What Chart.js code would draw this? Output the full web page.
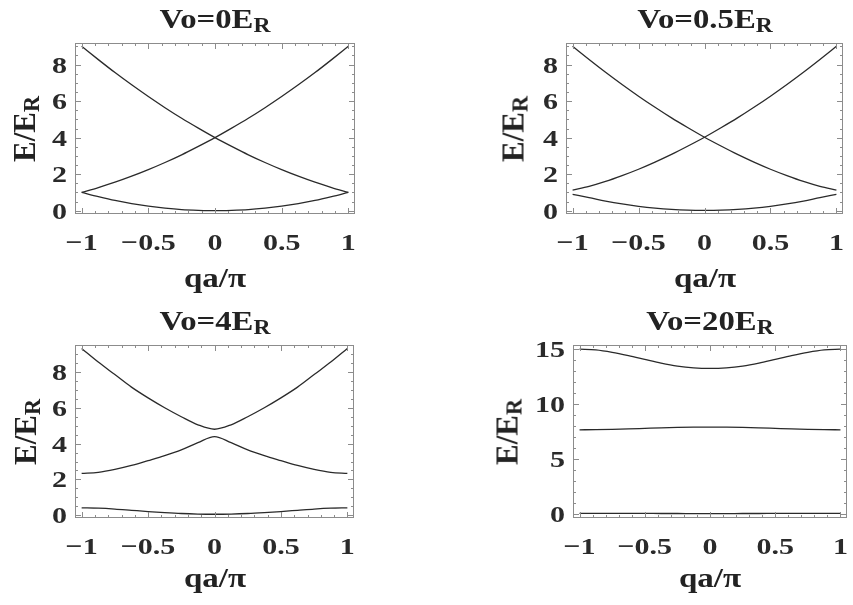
<!DOCTYPE html>
<html>
<head>
<meta charset="utf-8">
<script src="https://cdn.jsdelivr.net/npm/chart.js@4.4.1/dist/chart.umd.min.js"></script>
<style>
  html, body { margin: 0; padding: 0; background: #fff; }
  #fig { position: relative; width: 853px; height: 605px; overflow: hidden;
         font-family: 'Liberation Serif', 'Times New Roman', serif; font-weight: bold; color: #222; }
  canvas { position: absolute; }
  .lbl { position: absolute; white-space: nowrap; line-height: 1; }
  .title { font-size: 28px; transform: translateX(-50%) scaleX(1.17); }
  .xlab { font-size: 28px; transform: translateX(-50%) scaleX(1.18); }
  .ylab { font-size: 31px; transform: translate(-50%, -50%) rotate(-90deg); }
  sub { font-size: 0.72em; vertical-align: baseline; position: relative; top: 0.2em; }
</style>
</head>
<body>
<div id="fig">
  <canvas id="c0"></canvas>
  <canvas id="c1"></canvas>
  <canvas id="c2"></canvas>
  <canvas id="c3"></canvas>
</div>
<script>
// crystal momentum samples, in units of pi/a
const Q = [-1, -0.875, -0.75, -0.625, -0.5, -0.375, -0.25, -0.125, 0,
           0.125, 0.25, 0.375, 0.5, 0.625, 0.75, 0.875, 1];

const X_TICKS = [-1, -0.5, 0, 0.5, 1];
const Y_TICKS_SMALL = [0, 2, 4, 6, 8];
const Y_TICKS_LARGE = [0, 5, 10, 15];

const DEPTHS = ['0', '0.5', '4', '20'];

// Vo = 0 : free particle, folded parabolas
const V0_BAND1 = [1, 0.77, 0.56, 0.39, 0.25, 0.14, 0.06, 0.02, 0, 0.02, 0.06, 0.14, 0.25, 0.39, 0.56, 0.77, 1];
const V0_RISING = [1, 1.27, 1.56, 1.89, 2.25, 2.64, 3.06, 3.52, 4, 4.52, 5.06, 5.64, 6.25, 6.89, 7.56, 8.27, 9];
const V0_FALLING = [9, 8.27, 7.56, 6.89, 6.25, 5.64, 5.06, 4.52, 4, 3.52, 3.06, 2.64, 2.25, 1.89, 1.56, 1.27, 1];

// Vo = 0.5
const V05_BAND1 = [0.9, 0.72, 0.53, 0.37, 0.24, 0.14, 0.07, 0.03, 0.02, 0.03, 0.07, 0.14, 0.24, 0.37, 0.53, 0.72, 0.9];
const V05_RISING = [1.13, 1.33, 1.6, 1.92, 2.27, 2.66, 3.08, 3.54, 4.02, 4.54, 5.08, 5.66, 6.27, 6.91, 7.58, 8.28, 9];
const V05_FALLING = [9, 8.28, 7.58, 6.91, 6.27, 5.66, 5.08, 4.54, 4.02, 3.54, 3.08, 2.66, 2.27, 1.92, 1.6, 1.33, 1.13];

// Vo = 4
const V4_BAND1 = [0.42, 0.4, 0.35, 0.28, 0.21, 0.15, 0.1, 0.07, 0.06, 0.07, 0.1, 0.15, 0.21, 0.28, 0.35, 0.4, 0.42];
const V4_BAND2 = [2.34, 2.4, 2.56, 2.78, 3.05, 3.33, 3.65, 4.05, 4.39, 4.05, 3.65, 3.33, 3.05, 2.78, 2.56, 2.4, 2.34];
const V4_BAND3 = [9.31, 8.55, 7.85, 7.15, 6.55, 6.0, 5.5, 5.05, 4.8, 5.05, 5.5, 6.0, 6.55, 7.15, 7.85, 8.55, 9.31];

// Vo = 20
const V20_BAND1 = [0.03, 0.03, 0.03, 0.02, 0.02, 0.01, 0.01, 0, 0, 0, 0.01, 0.01, 0.02, 0.02, 0.03, 0.03, 0.03];
const V20_BAND2 = [7.64, 7.65, 7.68, 7.72, 7.77, 7.82, 7.86, 7.88, 7.89, 7.88, 7.86, 7.82, 7.77, 7.72, 7.68, 7.65, 7.64];
const V20_BAND3 = [15, 14.92, 14.7, 14.4, 14.06, 13.72, 13.45, 13.29, 13.24, 13.29, 13.45, 13.72, 14.06, 14.4, 14.7, 14.92, 15];

const TICK_FONT = "bold 24px 'Liberation Serif', 'Times New Roman', serif";
const TICK_STRETCH = 1.25;
const INK = '#2a2a2a';
const FRAME = '#8c8c8c';

function range(from, to, step) {
  const out = [];
  for (let v = from; v <= to + 1e-9; v += step) out.push(Math.round(v * 1000) / 1000);
  return out;
}

// draw text widened horizontally around its anchor
function wideText(ctx, str, px, py, align) {
  ctx.save();
  ctx.translate(px, py);
  ctx.scale(TICK_STRETCH, 1);
  ctx.textAlign = align;
  ctx.fillText(str, 0, 0);
  ctx.restore();
}

// Mathematica-style frame: grey box, inward ticks on all four sides, wide bold labels
const frameTicks = {
  id: 'frameTicks',
  afterDatasetsDraw(chart, args, opts) {
    const { ctx, chartArea: a } = chart;
    const x = chart.scales.x, y = chart.scales.y;
    ctx.save();
    ctx.strokeStyle = FRAME;
    ctx.lineWidth = 1;
    ctx.strokeRect(a.left + 0.5, a.top + 0.5, a.right - a.left - 1, a.bottom - a.top - 1);
    ctx.beginPath();
    const xMark = (v, len) => {
      const px = Math.round(x.getPixelForValue(v)) + 0.5;
      ctx.moveTo(px, a.bottom); ctx.lineTo(px, a.bottom - len);
      ctx.moveTo(px, a.top); ctx.lineTo(px, a.top + len);
    };
    const yMark = (v, len) => {
      const py = Math.round(y.getPixelForValue(v)) + 0.5;
      if (py < a.top || py > a.bottom) return;
      ctx.moveTo(a.left, py); ctx.lineTo(a.left + len, py);
      ctx.moveTo(a.right, py); ctx.lineTo(a.right - len, py);
    };
    opts.xMinor.forEach(v => xMark(v, 3));
    opts.xMajor.forEach(v => xMark(v, 6));
    opts.yMinor.forEach(v => yMark(v, 3));
    opts.yMajor.forEach(v => yMark(v, 6));
    ctx.stroke();

    ctx.fillStyle = INK;
    ctx.font = TICK_FONT;
    ctx.textBaseline = 'alphabetic';
    opts.xMajor.forEach(v => {
      const label = String(v).replace('-', '\u2212');
      wideText(ctx, label, x.getPixelForValue(v), a.bottom + 36, 'center');
    });
    opts.yMajor.forEach(v => {
      wideText(ctx, String(v), a.left - 8, y.getPixelForValue(v) + 8, 'right');
    });
    ctx.restore();
  }
};

const PANELS = [
  { left: 0,   top: 0,   areaLeft: 75,  areaRight: 355, areaTop: 43,  areaBottom: 214,
    yMin: -0.18, yMax: 9.18, yTicks: Y_TICKS_SMALL, yMinorStep: 0.5,
    bands: [V0_BAND1, V0_RISING, V0_FALLING], titleY: 5, xLabY: 264, yLabX: 24 },
  { left: 480, top: 0,   areaLeft: 566, areaRight: 843, areaTop: 43,  areaBottom: 214,
    yMin: -0.18, yMax: 9.18, yTicks: Y_TICKS_SMALL, yMinorStep: 0.5,
    bands: [V05_BAND1, V05_RISING, V05_FALLING], titleY: 5, xLabY: 264, yLabX: 513 },
  { left: 0,   top: 300, areaLeft: 75,  areaRight: 354, areaTop: 345, areaBottom: 518,
    yMin: -0.15, yMax: 9.5, yTicks: Y_TICKS_SMALL, yMinorStep: 0.5,
    bands: [V4_BAND1, V4_BAND2, V4_BAND3], titleY: 307, xLabY: 564, yLabX: 25 },
  { left: 480, top: 300, areaLeft: 573, areaRight: 847, areaTop: 345, areaBottom: 518,
    yMin: -0.4, yMax: 15.37, yTicks: Y_TICKS_LARGE, yMinorStep: 1,
    bands: [V20_BAND1, V20_BAND2, V20_BAND3], titleY: 307, xLabY: 564, yLabX: 507 }
];

const fig = document.getElementById('fig');
const X_AXIS_H = 50;

PANELS.forEach((p, i) => {
  const canvas = document.getElementById('c' + i);
  const padRight = 6;
  canvas.width = p.areaRight - p.left + padRight;
  canvas.height = p.areaBottom - p.top + X_AXIS_H;
  canvas.style.left = p.left + 'px';
  canvas.style.top = p.top + 'px';

  new Chart(canvas, {
    type: 'line',
    data: {
      datasets: p.bands.map(band => ({
        data: Q.map((q, k) => ({ x: q, y: band[k] })),
        borderColor: INK,
        borderWidth: 1.3,
        pointRadius: 0,
        cubicInterpolationMode: 'monotone',
        fill: false,
        clip: false
      }))
    },
    options: {
      responsive: false,
      devicePixelRatio: 1,
      animation: false,
      events: [],
      layout: { padding: { top: p.areaTop - p.top, right: padRight, left: 0, bottom: 0 } },
      scales: {
        x: {
          type: 'linear', min: -1.05, max: 1.05,
          grid: { display: false, drawTicks: false },
          border: { display: false },
          ticks: { display: false },
          afterFit: s => { s.height = X_AXIS_H; }
        },
        y: {
          type: 'linear', min: p.yMin, max: p.yMax,
          grid: { display: false, drawTicks: false },
          border: { display: false },
          ticks: { display: false },
          afterFit: s => { s.width = p.areaLeft - p.left; }
        }
      },
      plugins: {
        legend: { display: false },
        tooltip: { enabled: false },
        frameTicks: {
          xMajor: X_TICKS,
          xMinor: range(-1, 1, 0.1),
          yMajor: p.yTicks,
          yMinor: range(0, p.yMax, p.yMinorStep)
        }
      }
    },
    plugins: [frameTicks]
  });

  // titles and axis labels (need the subscript R)
  const cx = (p.areaLeft + p.areaRight) / 2;
  const cy = (p.areaTop + p.areaBottom) / 2;
  const title = document.createElement('div');
  title.className = 'lbl title';
  title.innerHTML = 'Vo=' + DEPTHS[i] + 'E<sub>R</sub>';
  title.style.left = cx + 'px';
  title.style.top = p.titleY + 'px';
  fig.appendChild(title);

  const xl = document.createElement('div');
  xl.className = 'lbl xlab';
  xl.textContent = 'qa/\u03C0';
  xl.style.left = cx + 'px';
  xl.style.top = p.xLabY + 'px';
  fig.appendChild(xl);

  const yl = document.createElement('div');
  yl.className = 'lbl ylab';
  yl.innerHTML = 'E/E<sub>R</sub>';
  yl.style.left = p.yLabX + 'px';
  yl.style.top = cy + 'px';
  fig.appendChild(yl);
});
</script>
</body>
</html>
